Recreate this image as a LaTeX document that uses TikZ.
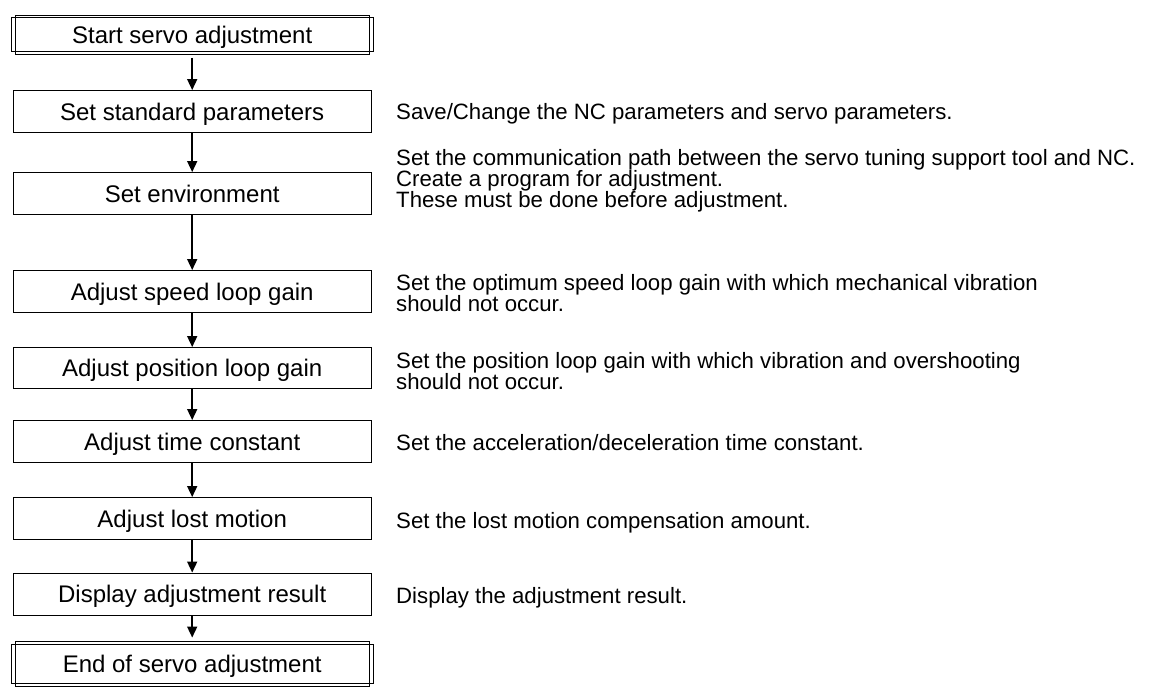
\documentclass[tikz,border=0pt]{standalone}
\usepackage{fontspec}
\setmainfont{Liberation Sans}
\usetikzlibrary{arrows.meta}
\begin{document}
\begin{tikzpicture}[x=1pt,y=-1pt,
  boxtext/.style={font=\fontsize{24}{28}\selectfont,text height=18pt,text depth=0.8pt},
  stepbox/.style={draw=black,line width=0.9pt,minimum width=358pt,minimum height=42pt,inner sep=0pt,boxtext},
  termbox/.style={draw=black,line width=0.9pt,minimum width=354.4pt,inner sep=0pt,boxtext},
  frame/.style={draw=black,line width=0.9pt},
  desc/.style={anchor=base west,inner sep=0pt,font=\fontsize{22.2}{21}\selectfont},
  flow/.style={-{Triangle[width=10pt,length=11pt]},line width=1.6pt}]
\useasboundingbox (0,0) rectangle (1159,691);
\fill[white] (0,0) rectangle (1159,691);

\node[termbox,minimum height=39pt] (start) at (192.2,34.5) {Start servo adjustment};
\draw[frame] ([shift={(-3.3,3.3)}]start.north west) rectangle ([shift={(3.3,-3.3)}]start.south east);
\node[stepbox] (ssp)  at (192.2,111.5) {Set standard parameters};
\node[stepbox] (env)  at (192.2,193.5) {Set environment};
\node[stepbox] (spd)  at (192.2,291.5) {Adjust speed loop gain};
\node[stepbox,minimum height=41pt] (pos)  at (192.2,368) {Adjust position loop gain};
\node[stepbox] (tim)  at (192.2,441.5) {Adjust time constant};
\node[stepbox] (lost) at (192.2,518.5) {Adjust lost motion};
\node[stepbox] (disp) at (192.2,594) {Display adjustment result};
\node[termbox,minimum height=45.4pt] (end) at (192.2,664) {End of servo adjustment};
\draw[frame] ([shift={(-3.3,3.3)}]end.north west) rectangle ([shift={(3.3,-3.3)}]end.south east);

\draw[flow] ([yshift=-3.3pt]start.south) -- (ssp.north);
\draw[flow] (ssp.south) -- (env.north);
\draw[flow] (env.south) -- (spd.north);
\draw[flow] (spd.south) -- (pos.north);
\draw[flow] (pos.south) -- (tim.north);
\draw[flow] (tim.south) -- (lost.north);
\draw[flow] (lost.south) -- (disp.north);
\draw[flow] (disp.south) -- ([yshift=3.3pt]end.north);

\node[desc] (d1) at (396,119) {Save/Change the NC parameters and servo parameters.};
\node[desc] (d2a) at (396,165.5) {Set the communication path between the servo tuning support tool and NC.};
\node[desc] (d2b) at (396,186.5) {Create a program for adjustment.};
\node[desc] (d2c) at (396,207.5) {These must be done before adjustment.};
\node[desc] (d3a) at (396,290) {Set the optimum speed loop gain with which mechanical vibration};
\node[desc] (d3b) at (396,311) {should not occur.};
\node[desc] (d4a) at (396,368) {Set the position loop gain with which vibration and overshooting};
\node[desc] (d4b) at (396,389) {should not occur.};
\node[desc] (d5) at (396,450) {Set the acceleration/deceleration time constant.};
\node[desc] (d6) at (396,528) {Set the lost motion compensation amount.};
\node[desc] (d7) at (396,603) {Display the adjustment result.};
\end{tikzpicture}
\end{document}
